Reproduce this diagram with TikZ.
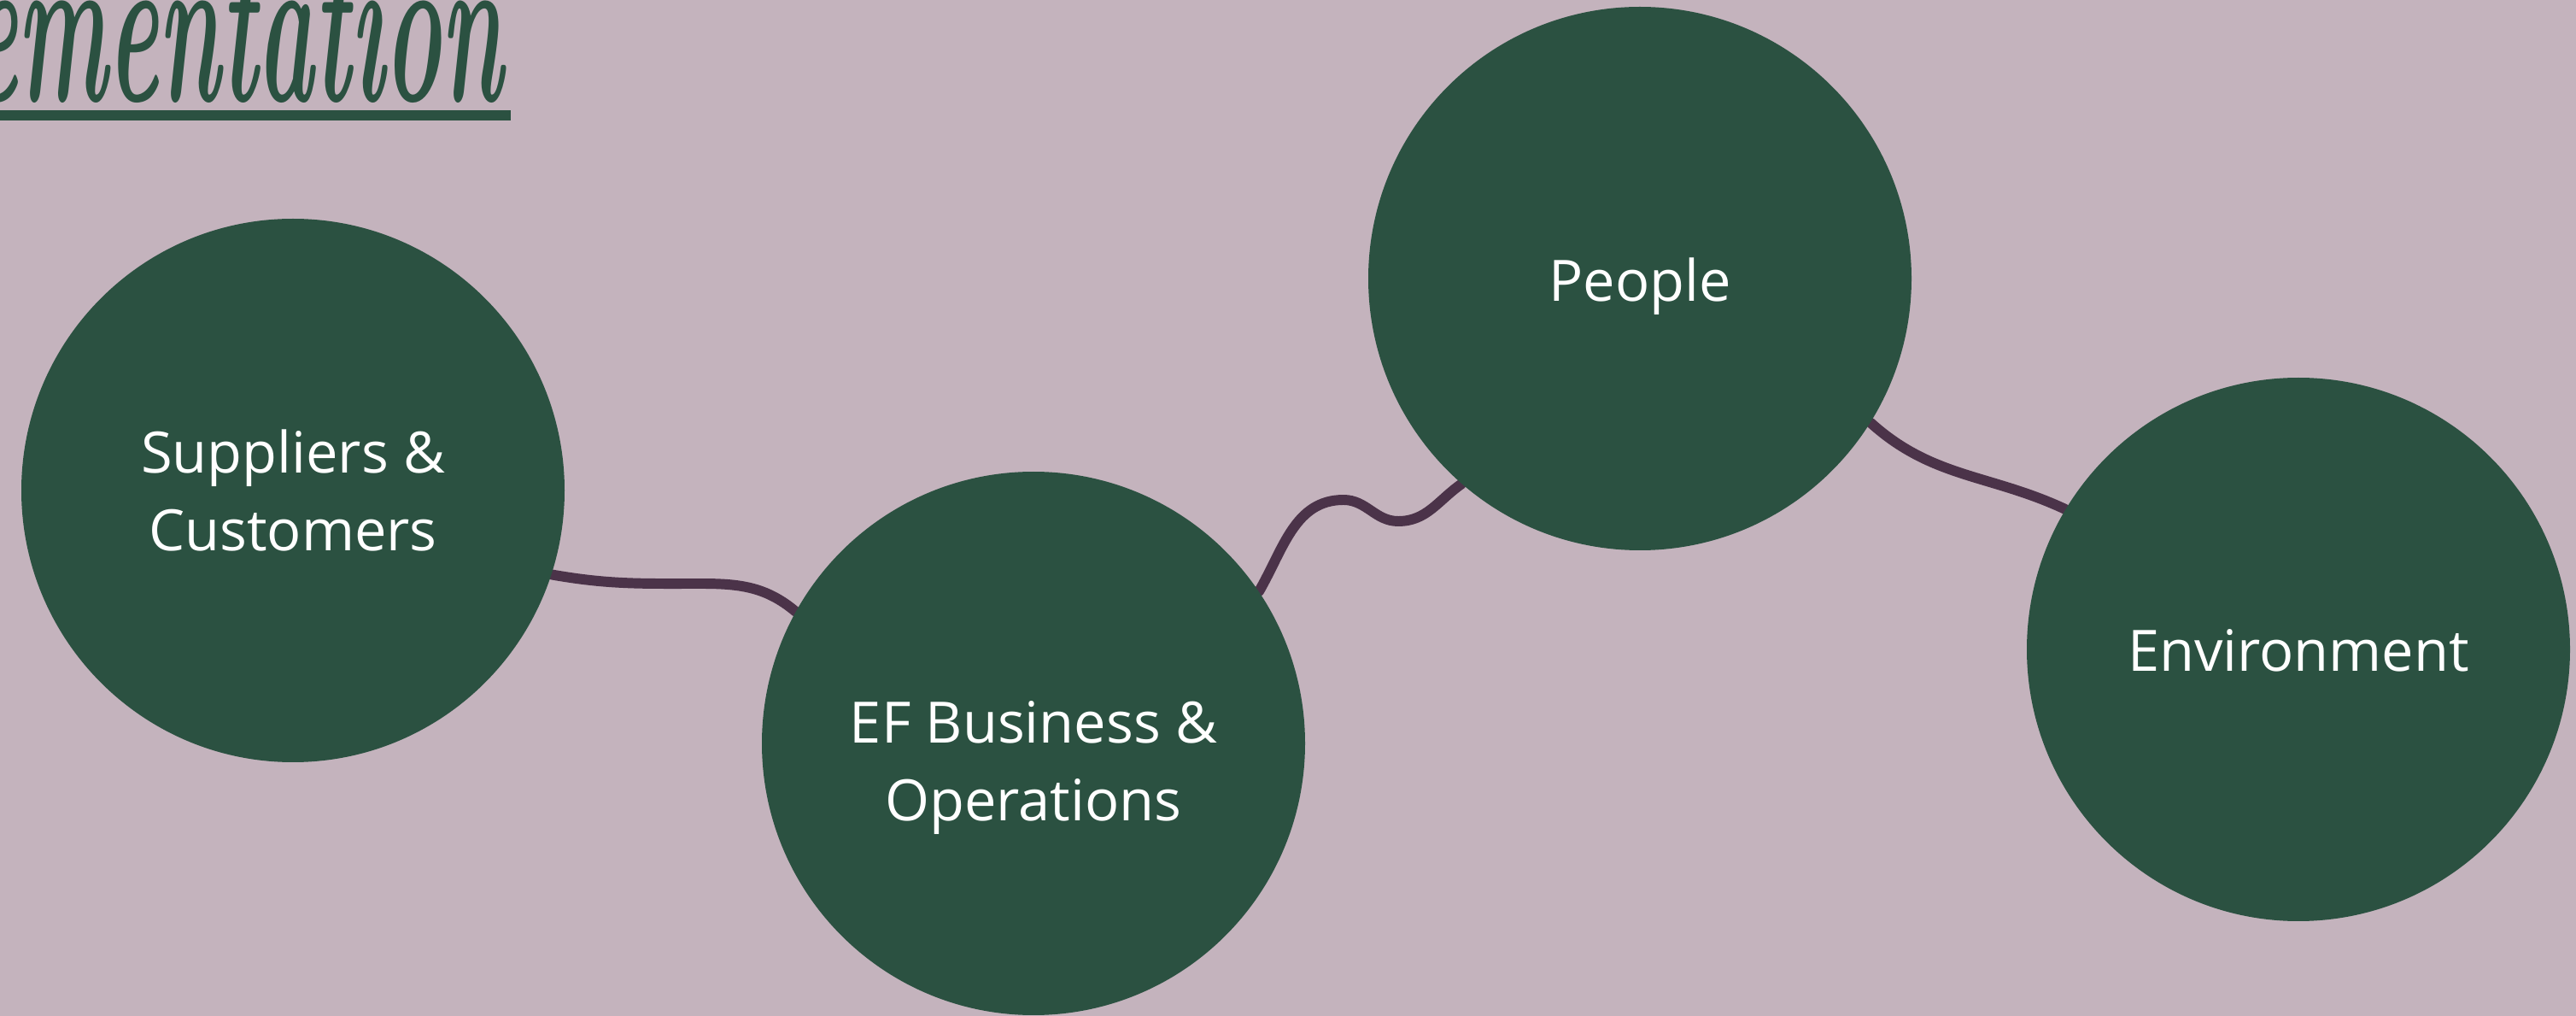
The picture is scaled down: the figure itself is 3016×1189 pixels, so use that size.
\documentclass[tikz,border=0pt]{standalone}
\usepackage{fontspec}
\newfontfamily\hubfont{Open Sans}
\definecolor{cpaper}{RGB}{196,179,189}
\definecolor{chub}{RGB}{43,81,65}
\definecolor{clink}{RGB}{75,51,73}
\pgfdeclarelayer{paper}
\pgfdeclarelayer{links}
\pgfsetlayers{paper,links,main}

\begin{document}
\begin{tikzpicture}[x=0.1mm,y=-0.1mm,
  hub/.style={circle,fill=chub,minimum size=6.36cm,inner sep=0pt},
  hubtext/.style={align=center,text=white,inner sep=0pt,
    font=\hubfont\fontsize{19}{26}\selectfont},
  link/.style={clink,line width=3.4pt,line cap=round}]
 \useasboundingbox (0,0) rectangle (3016,1189);
 \begin{pgfonlayer}{paper}
  \fill[cpaper] (0,0) rectangle (3016,1189);
 \end{pgfonlayer}
 % ---- heading (runs off the left edge) ----
 \node[anchor=base east,inner sep=0pt,text=chub] (head) at (590,119)
   {\scalebox{0.43}[1]{\fontsize{74}{74}\selectfont\bfseries\itshape ementation}};
 \fill[chub] (0,129) rectangle (598,141);
 % ---- the four circles ----
 \foreach \n/\x/\y/\dy/\lab in {supp/343/574/0pt/{Suppliers \&\\Customers},
   ef/1210/870/-8.2pt/{EF Business \&\\Operations}, people/1920/326/-2.7pt/People,
   env/2691/760/-0.5pt/Environment}
   \node[hub,label={[hubtext,yshift=\dy]center:\lab}] (\n) at (\x,\y) {};
 % ---- wavy links between them ----
 \begin{pgfonlayer}{links}
  \draw[link] (supp.-18.5) to[out=-10,in=180] (820,683) to[out=0,in=140] (ef.151.5);
  \draw[link] (ef.34.4) to[out=60,in=180] (1573,585) to[out=0,in=180] (1637,610)
    to[out=0,in=-145] (people.-131);
  \draw[link] (people.-32) to[out=-42,in=155] (env.149.3);
 \end{pgfonlayer}
\end{tikzpicture}
\end{document}
